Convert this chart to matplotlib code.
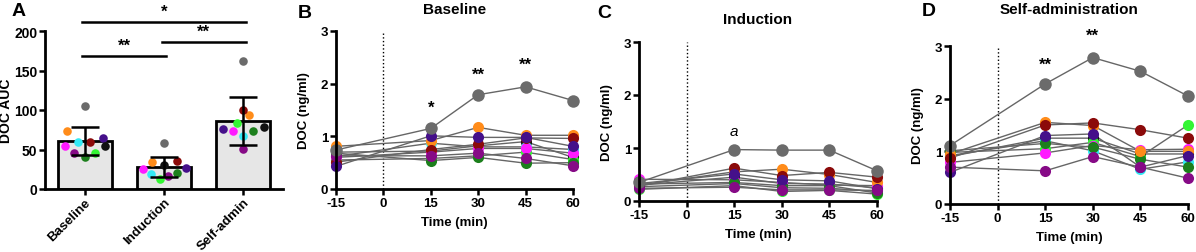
import numpy as np
import matplotlib
matplotlib.use("Agg")
import matplotlib.pyplot as plt

plt.rcParams['font.family'] = ['Liberation Sans', 'DejaVu Sans']
plt.rcParams['font.weight'] = 'bold'
plt.rcParams['axes.labelweight'] = 'bold'
plt.rcParams['axes.unicode_minus'] = False

# Data

subjects = ['gray', 'orange', 'maroon', 'indigo', 'magenta', 'cyan', 'lime', 'dkgreen', 'purple', 'black']
groups = ['Baseline', 'Induction', 'Self-admin']

auc_baseline = [105, 73, 59, 65, 55, 60, 46, 41, 45, 55]
auc_induction = [58, 34, 35, 27, 25, 19, 13, 20, 16, 30]
auc_selfadmin = [162, 94, 100, 76, 73, 67, 83, 74, 51, 78]
auc_mean = [61, 28, 86]
auc_sd = [18, 13, 30]

times = [-15, 15, 30, 45, 60]

doc_baseline = {
    'gray':    [0.74, 1.15, 1.79, 1.94, 1.68],
    'orange':  [0.81, 0.92, 1.17, 1.02, 1.02],
    'maroon':  [0.51, 0.75, 0.85, 0.97, 0.96],
    'indigo':  [0.43, 1.01, 0.98, 0.98, 0.81],
    'magenta': [0.60, 0.70, 0.77, 0.77, 0.68],
    'cyan':    [0.62, 0.87, 0.80, 0.80, 0.75],
    'lime':    [0.55, 0.58, 0.63, 0.70, 0.56],
    'dkgreen': [0.68, 0.54, 0.60, 0.49, 0.50],
    'purple':  [0.63, 0.63, 0.68, 0.58, 0.44],
    'black':   [0.70, 0.72, 0.82, 0.90, 0.60],
}
doc_induction = {
    'gray':    [0.35, 0.97, 0.96, 0.96, 0.57],
    'orange':  [0.30, 0.55, 0.60, 0.50, 0.35],
    'maroon':  [0.28, 0.62, 0.48, 0.54, 0.45],
    'indigo':  [0.33, 0.51, 0.40, 0.38, 0.23],
    'magenta': [0.41, 0.40, 0.35, 0.30, 0.29],
    'cyan':    [0.27, 0.33, 0.25, 0.24, 0.18],
    'lime':    [0.22, 0.29, 0.18, 0.20, 0.13],
    'dkgreen': [0.32, 0.35, 0.29, 0.29, 0.15],
    'purple':  [0.24, 0.26, 0.21, 0.21, 0.20],
    'black':   [0.30, 0.45, 0.33, 0.32, 0.25],
}
doc_selfadmin = {
    'gray':    [1.11, 2.28, 2.78, 2.52, 2.05],
    'orange':  [0.95, 1.55, 1.49, 1.00, 1.00],
    'maroon':  [0.87, 1.50, 1.54, 1.41, 1.25],
    'indigo':  [0.60, 1.30, 1.33, 0.70, 0.92],
    'magenta': [0.79, 0.97, 1.11, 1.03, 1.04],
    'cyan':    [0.92, 1.20, 1.01, 0.66, 0.80],
    'lime':    [0.98, 1.05, 1.17, 0.90, 1.50],
    'dkgreen': [1.01, 1.15, 1.08, 0.85, 0.70],
    'purple':  [0.70, 0.63, 0.90, 0.70, 0.49],
    'black':   [0.90, 1.25, 1.25, 0.95, 0.95],
}

# Styles

colors = {
    'gray': '#6b6b6b', 'orange': '#ff8c1a', 'maroon': '#8b0a0a', 'indigo': '#45108a',
    'magenta': '#ff1aff', 'cyan': '#33eaf5', 'lime': '#33f533', 'dkgreen': '#1c7f1c',
    'purple': '#860a86', 'black': '#111111',
}
draw_order = ['black', 'lime', 'cyan', 'magenta', 'dkgreen', 'orange', 'maroon', 'indigo', 'purple', 'gray']

# jitter of dots in panel A (category units)
jitter = {
    'Baseline':   [0.01, -0.22, 0.07, 0.23, -0.25, -0.08, 0.13, 0.0, -0.13, 0.26],
    'Induction':  [0.0, -0.15, 0.16, 0.28, -0.27, -0.16, -0.05, 0.17, 0.05, 0.0],
    'Self-admin': [0.0, 0.07, 0.0, -0.26, -0.13, 0.0, -0.08, 0.12, 0.0, 0.26],
}

W, H = 1196, 253
fig = plt.figure(figsize=(W / 100, H / 100), dpi=100)


def px_axes(l, t, r, b):
    return fig.add_axes([l / W, 1 - b / H, (r - l) / W, (b - t) / H])


def style_axes(ax, labelsize=9.5):
    for s in ['top', 'right']:
        ax.spines[s].set_visible(False)
    for s in ['left', 'bottom']:
        ax.spines[s].set_linewidth(2)
    ax.tick_params(direction='out', length=4, width=1.8, labelsize=labelsize, pad=1.5)


# Panel A: AUC bar chart

axA = px_axes(45, 32, 283, 190)
style_axes(axA, labelsize=10)
x = np.arange(len(groups))
axA.bar(x, auc_mean, width=0.68, color='#e6e6e6', edgecolor='black', linewidth=2, zorder=1)
for gi, (g, vals) in enumerate(zip(groups, [auc_baseline, auc_induction, auc_selfadmin])):
    for si, s in enumerate(subjects):
        axA.scatter(gi + jitter[g][si], vals[si], s=38, color=colors[s], zorder=3, linewidths=0)
axA.errorbar(x, auc_mean, yerr=auc_sd, fmt='none', ecolor='black', elinewidth=1.8,
             capsize=10, capthick=1.8, zorder=4)
axA.set_xlim(-0.5, 2.5)
axA.set_ylim(0, 200)
axA.set_yticks([0, 50, 100, 150, 200])
axA.set_xticks(x)
axA.set_xticklabels(groups, rotation=45, ha='right', rotation_mode='anchor', fontsize=9.5)
axA.tick_params(axis='x', pad=1)
axA.set_ylabel('DOC AUC', fontsize=10, labelpad=1)

# significance brackets
brackets = [(0, 1, 168, '**'), (1, 2, 186, '**'), (0, 2, 211, '*')]
for x0, x1, yb, txt in brackets:
    axA.plot([x0 - 0.03, x1 + 0.03], [yb, yb], color='black', lw=1.8, clip_on=False)
    axA.text((x0 + x1) / 2, yb + 4, txt, ha='center', va='bottom', fontsize=12, clip_on=False)

fig.text(12 / W, 1 - 12 / H, 'A', fontsize=14, fontweight='bold', ha='left', va='center')


# Panels B-D: time courses

def time_panel(rect, data, title, title_y, letter, letter_xy):
    ax = px_axes(*rect)
    style_axes(ax)
    ax.axvline(0, ymin=0, ymax=1, color='black', lw=1, ls=':', zorder=0)
    for s in draw_order:
        ms = 9 if s == 'gray' else 8
        ax.plot(times, data[s], color='#666666', lw=1, zorder=1, clip_on=False)
        ax.plot(times, data[s], ls='none', marker='o', ms=ms, mfc=colors[s], mec='none',
                zorder=2, clip_on=False)
    ax.set_xlim(-15, 60)
    ax.set_ylim(0, 3)
    ax.set_xticks([-15, 0, 15, 30, 45, 60])
    ax.set_yticks([0, 1, 2, 3])
    ax.set_xlabel('Time (min)', fontsize=9.5, labelpad=5)
    ax.set_ylabel('DOC (ng/ml)', fontsize=9.5, labelpad=8)
    cx = (rect[0] + rect[2]) / 2
    fig.text(cx / W, 1 - title_y / H, title, fontsize=11, fontweight='bold', ha='center', va='center')
    fig.text(letter_xy[0] / W, 1 - letter_xy[1] / H, letter, fontsize=14, fontweight='bold',
             ha='left', va='center')
    return ax


axB = time_panel((336, 32, 573, 190), doc_baseline, 'Baseline', 10, 'B', (298, 13))
axB.text(15, 1.56, '*', ha='center', va='center', fontsize=12)
axB.text(30, 2.18, '**', ha='center', va='center', fontsize=12)
axB.text(45, 2.37, '**', ha='center', va='center', fontsize=12)

axC = time_panel((639, 43, 877, 202), doc_induction, 'Induction', 20, 'C', (597, 13))
axC.text(15, 1.32, 'a', ha='center', va='center', fontsize=11, fontstyle='italic', fontweight='normal')

axD = time_panel((950, 47, 1188, 205), doc_selfadmin, 'Self-administration', 10, 'D', (922, 12))
axD.text(15, 2.66, '**', ha='center', va='center', fontsize=12)
axD.text(30, 3.2, '**', ha='center', va='center', fontsize=12, clip_on=False)

plt.savefig('out.png', dpi=100)
